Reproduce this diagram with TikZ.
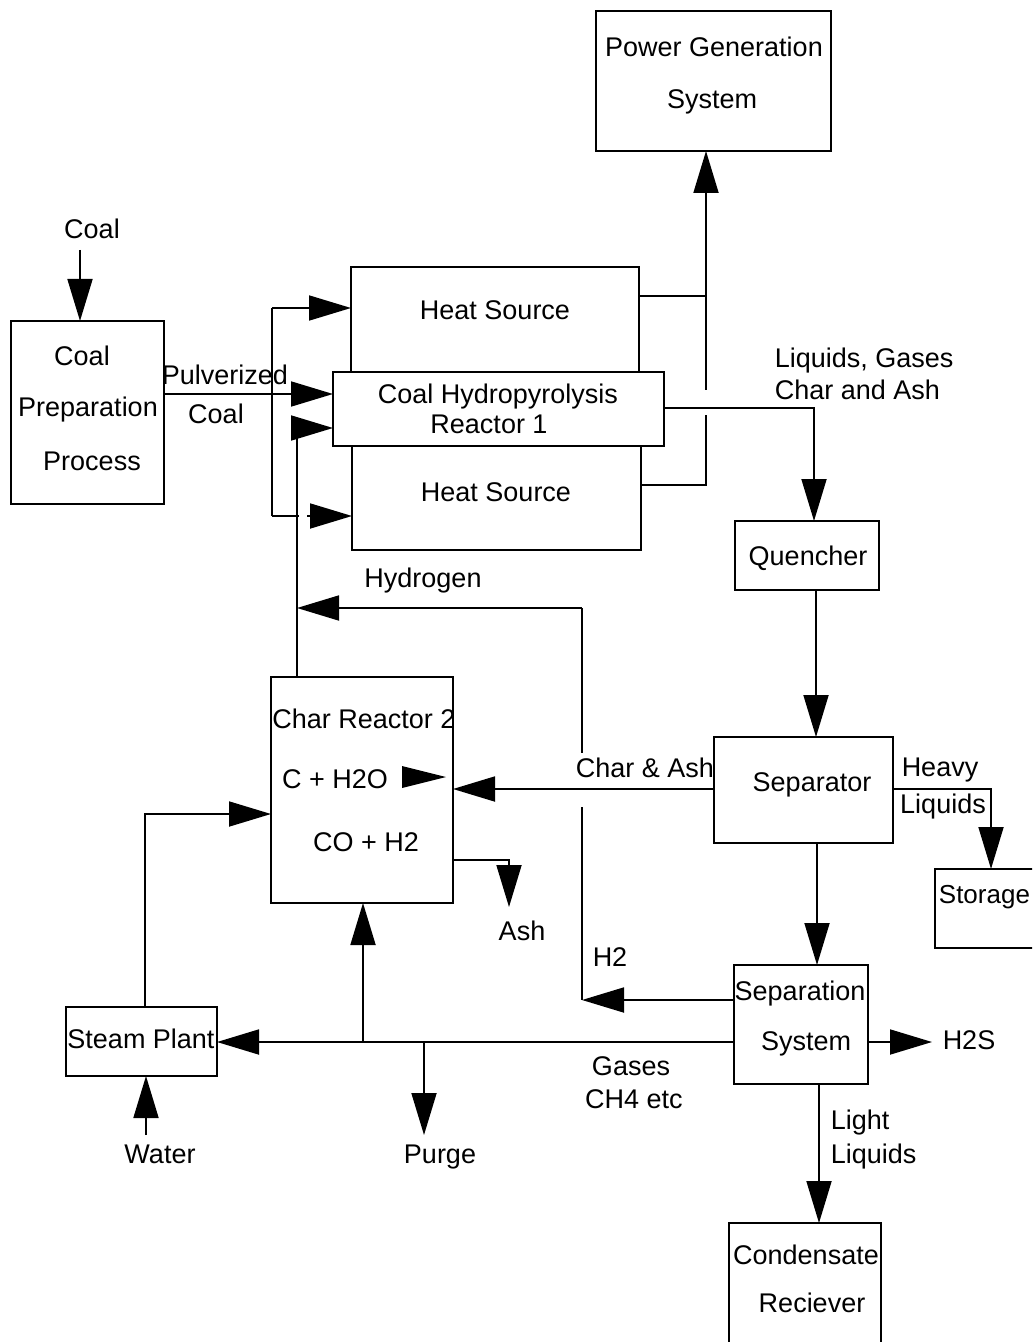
\documentclass[tikz,border=0pt]{standalone}
\usepackage{fontspec}
\setmainfont{Liberation Sans}
\usetikzlibrary{arrows.meta}
\tikzset{
  box/.style={draw, fill=white, line width=0.9pt, inner sep=0pt, outer sep=0pt},
  lbl/.style={inner sep=0pt, text height=0.72em, text depth=0pt},
  arr/.style={-{Triangle[length=21pt,width=12.5pt]}},
}
\begin{document}
\begin{tikzpicture}[x=0.5pt, y=-0.5pt, font=\fontsize{13.5}{16}\selectfont, line width=0.9pt]
\useasboundingbox (0,0) rectangle (1032,1342);
\fill[white] (0,0) rectangle (1032,1342);
\clip (0,0) rectangle (1032,1342);

% ---------- boxes ----------
\node[box, minimum width=117.5pt, minimum height=70pt] (pg) at (713.5,81) {};
\node[box, minimum width=76.5pt, minimum height=91.5pt] (prep) at (87.5,412.5) {};
\node[box, minimum width=144pt, minimum height=52.5pt] (hs1) at (495,319.5) {};
\node[box, minimum width=144.5pt, minimum height=52pt] (hs2) at (496.5,498) {};
\node[box, minimum width=165.5pt, minimum height=37pt] (reac) at (498.5,409) {};
\node[box, minimum width=72pt, minimum height=34.5pt] (quen) at (807,555.5) {};
\node[box, minimum width=89.5pt, minimum height=53pt] (sep) at (803.5,790) {};
\node[box, minimum width=55pt, minimum height=39.5pt] (stor) at (990,908.5) {};
\node[box, minimum width=91pt, minimum height=113pt] (char) at (362,790) {};
\node[box, minimum width=67pt, minimum height=59.5pt] (sepsys) at (801,1024.5) {};
\node[box, minimum width=76pt, minimum height=68.5pt] (cond) at (805,1291.5) {};
\node[box, minimum width=75.5pt, minimum height=34.5pt] (steam) at (141.5,1041.5) {};

% ---------- texts ----------
\node[lbl] (t-coal) at (92,231) {Coal};
\node[lbl] (t-prep1) at (82,358) {Coal};
\node[lbl] (t-prep2) at (88,409) {Preparation};
\node[lbl] (t-prep3) at (92,463) {Process};
\node[lbl] (t-pg1) at (714,49) {Power Generation};
\node[lbl] (t-pg2) at (712,101) {System};
\node[lbl] (t-hs1) at (495,312) {Heat Source};
\node[lbl] (t-hs2) at (496,494) {Heat Source};
\node[lbl] (t-reac1) at (498,396) {Coal Hydropyrolysis};
\node[lbl] (t-reac2) at (489,426) {Reactor 1};
\node[lbl] (t-pulv1) at (225,377) {Pulverized};
\node[lbl] (t-pulv2) at (216,416) {Coal};
\node[lbl, anchor=west] (t-lg1) at (774,360) {Liquids, Gases};
\node[lbl, anchor=west] (t-lg2) at (774,392) {Char and Ash};
\node[lbl] (t-quen) at (808,558) {Quencher};
\node[lbl] (t-hyd) at (423,580) {Hydrogen};
\node[lbl] (t-sep) at (812,784) {Separator};
\node[lbl] (t-heavy1) at (940,769) {Heavy};
\node[lbl] (t-heavy2) at (943,806) {Liquids};
\node[lbl, anchor=west, font=\fontsize{13}{16}\selectfont] (t-stor) at (938,896) {Storage};
\node[lbl] (t-charash) at (645,770) {Char \& Ash};
\node[lbl] (t-char1) at (364,721) {Char Reactor 2};
\node[lbl] (t-char2) at (335,781) {C + H2O};
\node[lbl] (t-char3) at (366,844) {CO + H2};
\node[lbl] (t-ash) at (522,933) {Ash};
\node[lbl] (t-h2) at (610,959) {H2};
\node[lbl] (t-ss1) at (800,993) {Separation};
\node[lbl] (t-ss2) at (806,1043) {System};
\node[lbl] (t-h2s) at (969,1042) {H2S};
\node[lbl] (t-steam) at (141,1041) {Steam Plant};
\node[lbl] (t-gas1) at (631,1068) {Gases};
\node[lbl] (t-gas2) at (634,1101) {CH4 etc};
\node[lbl] (t-water) at (160,1156) {Water};
\node[lbl] (t-purge) at (440,1156) {Purge};
\node[lbl, anchor=west] (t-light1) at (830,1122) {Light};
\node[lbl, anchor=west] (t-light2) at (830,1156) {Liquids};
\node[lbl] (t-cond1) at (806,1257) {Condensate};
\node[lbl] (t-cond2) at (812,1305) {Reciever};

% reaction arrow inside Char Reactor 2
\fill (402,766) -- (446,777) -- (402,788) -- cycle;

% ---------- connector coordinates ----------
\coordinate (c-coal) at (80,250);
\coordinate (pv) at (200,394);
\coordinate (br) at (272,308);
\coordinate (br2) at (272,516);
\coordinate (gapA) at (299,516);
\coordinate (gapB) at (307,516);
\coordinate (h1) at (297,608);
\coordinate (h2) at (297,428);
\coordinate (hr) at (582,608);
\coordinate (hg1) at (582,753);
\coordinate (hg2) at (582,807);
\coordinate (hb) at (582,1000);
\coordinate (p1) at (706,296);
\coordinate (p2) at (706,390);
\coordinate (p3) at (706,415);
\coordinate (p4) at (706,485);
\coordinate (q1) at (814,408);
\coordinate (qs) at (816,600);
\coordinate (hv) at (991,789);
\coordinate (ca) at (600,789);
\coordinate (ss) at (817,900);
\coordinate (hs) at (932,1042);
\coordinate (g) at (500,1042);
\coordinate (gu) at (363,1042);
\coordinate (pu) at (424,1042);
\coordinate (pe) at (424,1135);
\coordinate (ll) at (819,1150);
\coordinate (wa) at (146,1135);
\coordinate (st) at (145,814);
\coordinate (as) at (509,860);
\coordinate (ae) at (509,907);

% ---------- connectors ----------
\draw[arr] (c-coal) -- (c-coal |- prep.north);
\draw[arr] (prep.east |- pv) -- (reac.west |- pv);
\draw (br2) -- (br);
\draw[arr] (br) -- (hs1.west |- br);
\draw (br2) -- (gapA);
\draw[arr] (gapB) -- (hs2.west |- br2);

% hydrogen recycle
\draw (char.north -| h1) -- (h1) -- (h2);
\draw[arr] (h2) -- (reac.west |- h2);
\draw[arr] (hr) -- (h1);
\draw (hr) -- (hg1);
\draw (hg2) -- (hb);
\draw[arr] (sepsys.west |- hb) -- (hb);

% heat sources to power generation
\draw (hs1.east |- p1) -- (p1);
\draw[arr] (p1) -- (p1 |- pg.south);
\draw (p1) -- (p2);
\draw (p3) -- (p4) -- (hs2.east |- p4);

% reactor to quencher, separator
\draw[arr] (reac.east |- q1) -- (q1) -- (q1 |- quen.north);
\draw[arr] (quen.south -| qs) -- (sep.north -| qs);
\draw[arr] (sep.east |- hv) -- (hv) -- (hv |- stor.north);
\draw[arr] (sep.west |- ca) -- (char.east |- ca);
\draw[arr] (sep.south -| ss) -- (sepsys.north -| ss);

% separation system outputs
\draw[arr] (sepsys.east |- hs) -- (hs);
\draw[arr] (sepsys.west |- g) -- (steam.east |- g);
\draw[arr] (gu) -- (gu |- char.south);
\draw[arr] (pu) -- (pe);
\draw[arr] (sepsys.south -| ll) -- (cond.north -| ll);

% steam plant
\draw[arr] (wa) -- (wa |- steam.south);
\draw[arr] (steam.north -| st) -- (st) -- (char.west |- st);

% ash
\draw[arr] (char.east |- as) -- (as) -- (ae);
\end{tikzpicture}
\end{document}
